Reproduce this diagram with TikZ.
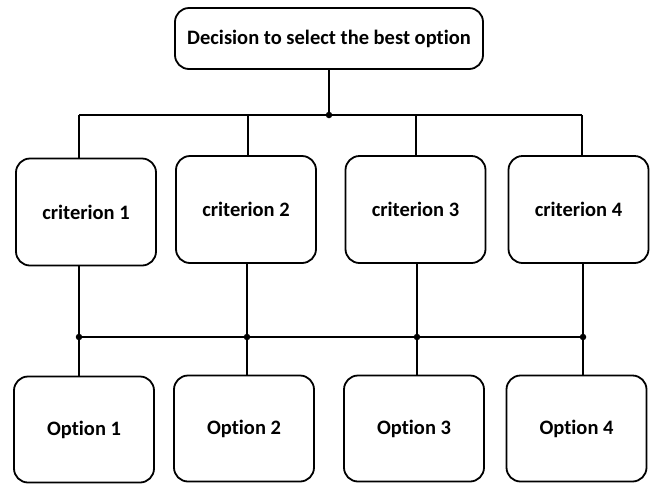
\documentclass[tikz,border=0pt]{standalone}
\usepackage{fontspec}
\setmainfont{Carlito}[Ligatures=NoCommon]
\begin{document}
\begin{tikzpicture}[x=1pt,y=-1pt,
  box/.style={draw, line width=1.8pt, rounded corners=14pt, inner sep=0pt,
    font=\bfseries\fontsize{20.5}{24}\selectfont},
  crit/.style={box, minimum width=140pt, minimum height=107pt},
  opt/.style={box, minimum width=140pt, minimum height=106pt},
  upper/.style={line width=2.4pt},
  lower/.style={line width=1.8pt},
  link/.style={line width=1.3pt},
  junction/.style={circle, fill, inner sep=0pt, minimum size=6.5pt}]
\useasboundingbox (0,0) rectangle (656,483);

% goal
\node[box, minimum width=308pt, minimum height=61pt] (goal) at (329,38.5)
  {Decision to select the best option};

% criteria
\node[crit] (c1) at (86,212) {criterion 1};
\node[crit] (c2) at (246,209.5) {criterion 2};
\node[crit] (c3) at (415.5,209.5) {criterion 3};
\node[crit] (c4) at (578.5,209.5) {criterion 4};

% options
\node[opt] (o1) at (84,429.5) {Option 1};
\node[opt] (o2) at (244,428.5) {Option 2};
\node[opt] (o3) at (414,428.5) {Option 3};
\node[opt] (o4) at (576.5,428.5) {Option 4};

% upper bus
\coordinate (hub) at (329,115);
\coordinate (u1) at (79,115);
\coordinate (u2) at (248,115);
\coordinate (u3) at (416,115);
\coordinate (u4) at (582,115);
\draw[upper] (goal.south) -- (hub);
\draw[upper] (u1) -- (u4);
\foreach \i in {1,...,4}
  \draw[upper] (u\i) -- (u\i |- c\i.north);
\node[junction] at (hub) {};

% lower bus
\coordinate (j1) at (79,337);
\coordinate (j2) at (247,337);
\coordinate (j3) at (417,337);
\coordinate (j4) at (583,337);
\draw[lower] (j1) -- (j4);
\foreach \i in {1,...,4}{
  \draw[link] (j\i |- c\i.south) -- (j\i |- o\i.north);
  \node[junction] at (j\i) {};
}
\end{tikzpicture}
\end{document}
